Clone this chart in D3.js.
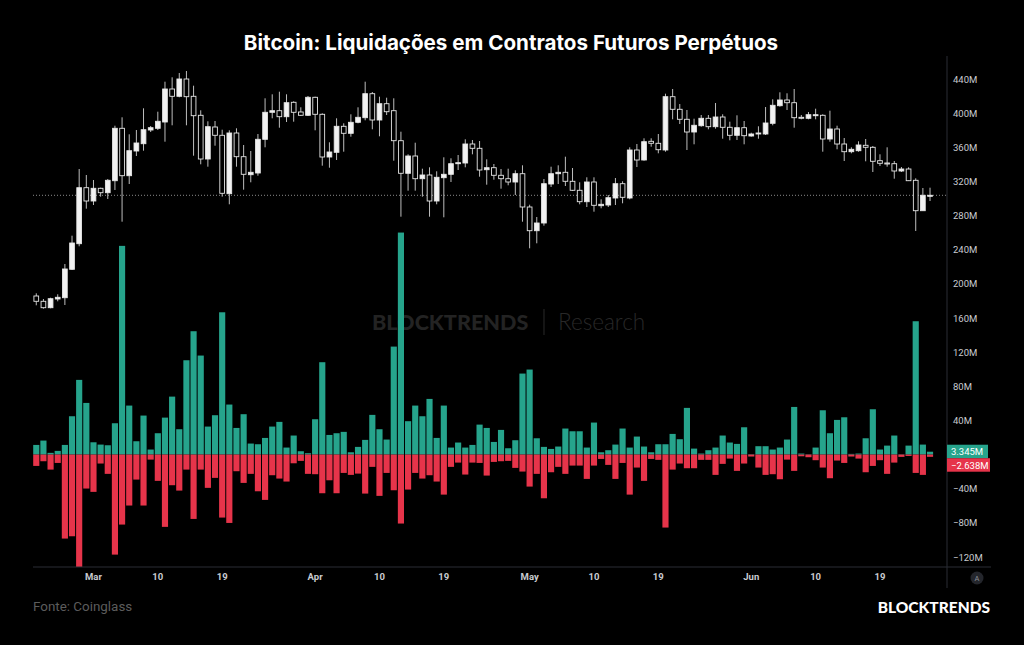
<!DOCTYPE html>
<html lang="pt">
<head>
    <meta charset="UTF-8"/>
    <title>Bitcoin: Liquidações</title>
    <script src="https://d3js.org/d3.v7.min.js"></script>
    <style>
        body {
            margin: 0;
            background: #000;
        }
    </style>
</head>
<body>
<svg id="chart" width="1024" height="645"></svg>
<script>
    // daily candles from Feb 22 to Jun 26 2024
    const dates = d3.timeDay.range(new Date(2024, 1, 22), new Date(2024, 5, 27));

    // [open, high, low, close]
    const ohlc = [
        [50900, 51170, 49970, 50370], [50370, 50600, 49630, 49730], [49730, 50730, 49670, 50630], [50600, 51070, 50370, 50770],
        [50730, 54100, 50000, 53600], [53570, 56930, 53500, 56200], [56130, 63600, 55870, 61730], [61730, 63000, 59630, 60400],
        [60400, 62500, 60000, 61670], [61670, 61730, 60830, 61230], [61230, 62600, 60600, 62470], [62430, 67930, 61500, 67670],
        [67670, 68770, 58330, 62930], [62930, 67070, 62100, 65430], [65400, 67500, 64900, 66200], [66130, 69670, 65430, 67530],
        [67500, 67900, 67300, 67730], [67670, 69330, 67500, 68370], [68300, 72330, 66330, 71600], [71600, 72770, 67970, 70870],
        [70870, 73200, 70770, 72600], [72600, 73400, 67970, 70830], [70870, 71930, 64930, 68930], [68970, 69470, 64070, 64600],
        [64600, 68370, 63830, 67830], [67800, 68400, 65930, 66970], [66970, 67530, 60830, 61170], [61130, 67470, 60070, 67200],
        [67200, 67670, 63830, 64830], [64830, 66000, 61530, 63070], [63030, 65400, 62270, 63270], [63200, 67100, 62930, 66570],
        [66570, 70670, 65770, 69270], [69270, 71070, 68670, 69430], [69430, 71330, 67730, 68830], [68830, 71070, 68300, 70230],
        [70270, 70370, 68330, 69270], [69300, 69770, 68900, 68970], [68970, 70900, 68900, 70770], [70770, 70830, 67470, 69070],
        [69070, 69170, 63930, 64800], [64800, 66270, 63730, 65300], [65270, 68670, 64500, 67870], [67870, 68170, 65330, 67170],
        [67170, 69070, 66830, 68270], [68270, 69770, 68170, 68770], [68730, 72330, 68470, 71130], [71130, 71300, 67570, 68500],
        [68500, 70830, 66870, 70130], [70130, 70730, 69000, 69330], [69430, 70670, 64430, 66430], [66430, 67330, 58830, 63170],
        [63170, 65070, 61430, 64900], [64900, 66230, 61430, 62630], [62630, 63630, 60830, 63000], [63000, 63770, 58830, 60400],
        [60400, 63370, 60070, 62770], [62730, 64770, 58770, 63070], [63070, 64670, 62300, 64130], [64130, 65000, 63500, 64230],
        [64200, 66570, 63770, 66100], [66100, 66500, 65070, 65670], [65670, 66400, 62830, 63500], [63530, 64570, 62030, 63730],
        [63730, 64100, 62530, 62970], [62970, 63600, 61630, 62630], [62630, 63630, 61970, 62300], [62300, 63470, 61000, 63130],
        [63130, 63970, 58330, 59800], [59800, 60030, 55670, 57430], [57430, 58800, 56170, 58200], [58200, 62600, 57930, 62130],
        [62100, 63830, 61800, 63130], [63130, 63970, 62100, 63270], [63270, 64830, 61900, 62370], [62370, 63700, 61400, 61470],
        [61470, 62270, 60070, 60330], [60330, 62770, 59800, 62300], [62300, 62770, 59330, 59970], [59930, 60570, 59670, 60070],
        [60000, 61000, 59800, 60730], [60700, 62700, 60000, 62130], [62130, 62370, 60170, 60770], [60700, 65770, 60570, 65500],
        [65500, 66100, 63800, 64500], [64500, 66670, 64430, 66330], [66370, 66670, 65830, 66170], [66170, 67100, 65170, 65530],
        [65500, 71130, 65330, 70830], [70830, 71600, 68570, 69570], [69570, 70100, 68100, 68570], [68570, 69500, 65500, 67300],
        [67300, 68630, 66070, 67970], [67930, 69000, 67830, 68670], [68670, 69000, 67570, 67830], [67830, 70200, 67630, 68800],
        [68800, 69070, 66630, 67770], [67770, 68330, 66470, 66970], [66970, 68970, 66500, 67730], [67730, 68400, 66070, 66930],
        [66900, 67230, 66830, 67100], [67100, 67870, 66630, 67200], [67100, 69800, 67000, 68200], [68170, 70570, 67970, 69970],
        [69930, 71270, 69830, 70500], [70500, 71170, 69500, 70230], [70230, 71600, 67730, 68730], [68770, 69000, 68570, 68730],
        [68670, 69300, 68570, 69030], [68970, 69630, 68570, 69030], [68970, 69070, 65330, 66600], [66600, 69430, 66330, 67600],
        [67600, 67930, 65570, 66100], [66100, 66700, 64400, 65330], [65330, 65770, 65170, 65570], [65430, 66370, 65330, 66000],
        [65970, 66600, 64370, 65770], [65770, 65900, 63300, 64370], [64430, 65070, 63900, 64170], [64200, 65770, 63830, 64100],
        [64130, 64400, 62630, 63400], [63400, 63800, 63300, 63600], [63600, 63770, 62400, 62430], [62470, 62670, 57400, 59430],
        [59430, 61700, 59430, 60970], [60950, 61730, 60400, 60970]
    ];

    // liquidations in millions of USD (positive = green, negative = red)
    const longLiq = [
        11.3, 16.4, 2.0, 4.3, 11.3, 44.9, 87.5, 60.5, 14.4, 11.7,
        10.9, 36.7, 244.5, 57.4, 15.6, 45.7, 5.9, 25.0, 43.3, 67.9,
        29.7, 110.5, 144.5, 116.0, 32.8, 46.1, 166.7, 58.6, 31.2, 47.3,
        12.9, 12.1, 19.5, 32.8, 38.3, 8.2, 22.3, 3.9, 1.6, 41.4,
        108.2, 23.0, 25.0, 26.6, 2.7, 9.0, 17.2, 46.5, 29.7, 17.6,
        126.5, 260.1, 39.1, 57.4, 44.9, 65.2, 19.5, 57.4, 8.2, 14.1,
        8.2, 11.3, 35.1, 31.2, 14.8, 28.9, 7.4, 16.8, 94.9, 99.6,
        19.1, 9.0, 6.6, 9.4, 30.5, 27.3, 27.3, 8.2, 37.5, 2.7,
        5.1, 11.7, 30.5, 8.2, 21.1, 9.4, 2.7, 12.1, 12.1, 24.2,
        18.0, 54.7, 7.0, 1.2, 5.1, 8.2, 22.3, 14.1, 12.5, 32.0,
        0.5, 9.8, 9.8, 5.9, 8.2, 17.6, 55.8, 1.2, 0.4, 8.2,
        51.9, 25.0, 40.6, 43.7, 0.8, 1.2, 19.1, 53.1, 5.9, 10.5,
        22.3, 0.4, 10.5, 156.2, 11.7, 3.345
    ];
    const shortLiq = [
        -13.3, -7.8, -17.6, -9.8, -98.4, -95.7, -132.4, -39.8, -43.7, -10.5,
        -22.6, -117.2, -82.0, -59.7, -29.3, -59.7, -5.9, -30.8, -84.7, -35.9,
        -42.2, -17.6, -75.4, -17.6, -39.0, -27.3, -73.8, -80.1, -19.5, -33.2,
        -22.6, -43.0, -53.1, -24.2, -28.1, -31.6, -10.2, -7.4, -22.6, -23.0,
        -45.3, -30.1, -45.3, -21.5, -23.8, -22.3, -45.7, -14.4, -48.4, -21.5,
        -41.8, -80.8, -41.0, -21.5, -28.1, -24.2, -31.6, -46.9, -14.4, -9.4,
        -23.4, -9.4, -9.8, -24.6, -8.6, -7.8, -7.4, -15.6, -19.9, -37.5,
        -22.6, -51.2, -20.7, -14.4, -22.6, -12.9, -12.9, -28.5, -12.9, -5.1,
        -12.1, -28.5, -9.8, -46.9, -15.2, -30.8, -5.1, -6.2, -85.5, -17.6,
        -10.5, -16.0, -16.0, -6.2, -6.2, -23.8, -10.9, -4.7, -19.1, -10.5,
        -2.3, -15.2, -23.8, -23.0, -28.9, -5.9, -19.1, -2.0, -3.1, -6.6,
        -15.2, -27.7, -7.0, -9.8, -2.3, -4.7, -20.7, -13.3, -6.6, -22.6,
        -9.4, -2.7, -1.6, -21.5, -23.8, -2.638
    ];

    const yTicks = [-120, -80, -40, 40, 80, 120, 160, 200, 240, 280, 320, 360, 400, 440];
    const xTickDates = ["2024-03-01", "2024-03-10", "2024-03-19", "2024-04-01", "2024-04-10", "2024-04-19",
        "2024-05-01", "2024-05-10", "2024-05-19", "2024-06-01", "2024-06-10", "2024-06-19"];
    const xTickLabels = ["Mar", "10", "19", "Apr", "10", "19", "May", "10", "19", "Jun", "10", "19"];

    const width = 1024;
    const height = 645;
    const plot = {left: 33, right: 947, top: 56, bottom: 567};

    const green = "#26a48c";
    const red = "#e6344a";
    const axisGray = "#2a2d35";
    const labelGray = "#c9cbd0";

    const fmt = d3.timeFormat("%Y-%m-%d");
    const keys = dates.map(fmt);

    const svg = d3.select("#chart");

    svg.append("rect")
        .attr("width", width)
        .attr("height", height)
        .attr("fill", "#000");

    // Title
    svg.append("text")
        .attr("x", 511)
        .attr("y", 50)
        .attr("text-anchor", "middle")
        .style("font-family", "Inter, Roboto, sans-serif")
        .style("font-weight", "700")
        .style("font-size", "20.6px")
        .style("fill", "#fff")
        .text("Bitcoin: Liquidações em Contratos Futuros Perpétuos");

    // watermark
    const wm = svg.append("g");
    wm.append("text")
        .attr("x", 372)
        .attr("y", 330)
        .style("font-family", "Lato, sans-serif")
        .style("font-weight", "900")
        .style("font-size", "21.6px")
        .style("fill", "#232323")
        .text("BLOCKTRENDS");
    wm.append("line")
        .attr("x1", 544).attr("x2", 544)
        .attr("y1", 309).attr("y2", 335)
        .attr("stroke", "#232323")
        .attr("stroke-width", 1.2);
    wm.append("text")
        .attr("x", 558)
        .attr("y", 330)
        .style("font-family", "Lato, sans-serif")
        .style("font-weight", "300")
        .style("font-size", "22.5px")
        .style("fill", "#282828")
        .text("Research");

    // scales
    const x = d3.scaleBand()
        .domain(keys)
        .range([32.7, 933.6])
        .padding(0);

    const y = d3.scaleLinear()
        .domain([-120, 440])
        .range([557, 79]);

    const price = d3.scaleLinear()
        .domain([50000, 74000])
        .range([305, 65]);

    const cx = i => x(keys[i]) + x.bandwidth() / 2;

    svg.append("clipPath")
        .attr("id", "plotClip")
        .append("rect")
        .attr("x", plot.left)
        .attr("y", plot.top)
        .attr("width", plot.right - plot.left)
        .attr("height", plot.bottom - plot.top);

    const g = svg.append("g").attr("clip-path", "url(#plotClip)");

    // liquidation bars
    const barW = x.bandwidth() * 0.86;
    g.selectAll(".long")
        .data(longLiq)
        .join("rect")
        .attr("class", "long")
        .attr("x", (d, i) => cx(i) - barW / 2)
        .attr("width", barW)
        .attr("y", d => y(d))
        .attr("height", d => y(0) - y(d))
        .attr("fill", green);

    g.selectAll(".short")
        .data(shortLiq)
        .join("rect")
        .attr("class", "short")
        .attr("x", (d, i) => cx(i) - barW / 2)
        .attr("width", barW)
        .attr("y", y(0))
        .attr("height", d => y(d) - y(0))
        .attr("fill", red);

    // last price dotted line
    const last = ohlc[ohlc.length - 1][3];
    g.append("line")
        .attr("x1", plot.left)
        .attr("x2", plot.right)
        .attr("y1", price(last))
        .attr("y2", price(last))
        .attr("stroke", "#8a8a8a")
        .attr("stroke-width", 1)
        .attr("stroke-dasharray", "1,2");

    // candles
    const candleW = x.bandwidth() * 0.66;
    const candles = g.selectAll(".candle")
        .data(ohlc)
        .join("g")
        .attr("class", "candle");

    candles.append("line")
        .attr("x1", (d, i) => cx(i))
        .attr("x2", (d, i) => cx(i))
        .attr("y1", d => price(d[1]))
        .attr("y2", d => price(d[2]))
        .attr("stroke", "#bdbdbd")
        .attr("stroke-width", 1);

    candles.append("rect")
        .attr("x", (d, i) => cx(i) - candleW / 2)
        .attr("width", candleW)
        .attr("y", d => price(Math.max(d[0], d[3])))
        .attr("height", d => Math.max(1, Math.abs(price(d[0]) - price(d[3]))))
        .attr("fill", d => d[3] >= d[0] ? "#f2f2f2" : "#000")
        .attr("stroke", "#e6e6e6")
        .attr("stroke-width", 0.9);

    // right axis
    svg.append("line")
        .attr("x1", plot.right).attr("x2", plot.right)
        .attr("y1", plot.top).attr("y2", 588)
        .attr("stroke", axisGray);

    const yAxis = svg.append("g")
        .attr("transform", `translate(${plot.right}, 0)`)
        .call(d3.axisRight(y)
            .tickValues(yTicks)
            .tickSize(0)
            .tickPadding(6)
            .tickFormat(d => (d < 0 ? "−" : "") + Math.abs(d) + "M"));
    yAxis.select(".domain").remove();
    yAxis.selectAll("text")
        .style("font-family", "Roboto, sans-serif")
        .style("font-size", "9.5px")
        .style("fill", labelGray);

    // bottom axis
    svg.append("line")
        .attr("x1", plot.left).attr("x2", 991)
        .attr("y1", plot.bottom).attr("y2", plot.bottom)
        .attr("stroke", axisGray);

    const xAxis = svg.append("g")
        .attr("transform", `translate(0, ${plot.bottom})`)
        .call(d3.axisBottom(x)
            .tickValues(xTickDates)
            .tickSize(0)
            .tickPadding(6)
            .tickFormat((d, i) => xTickLabels[i]));
    xAxis.select(".domain").remove();
    xAxis.selectAll("text")
        .style("font-family", "Roboto, sans-serif")
        .style("font-size", "9.5px")
        .style("font-weight", "700")
        .style("fill", labelGray);

    // last value labels
    const lastLong = longLiq[longLiq.length - 1];
    const lastShort = shortLiq[shortLiq.length - 1];
    const boxes = [
        {v: lastLong, text: lastLong.toFixed(3) + "M", color: green, yc: y(lastLong), w: 41},
        {v: lastShort, text: "−" + Math.abs(lastShort).toFixed(3) + "M", color: red, yc: y(lastLong) + 13.5, w: 43}
    ];
    const box = svg.selectAll(".lastbox")
        .data(boxes)
        .join("g")
        .attr("class", "lastbox")
        .attr("transform", d => `translate(${plot.right}, ${d.yc})`);
    box.append("rect")
        .attr("x", 0)
        .attr("y", -7)
        .attr("width", d => d.w)
        .attr("height", 13.5)
        .attr("fill", d => d.color);
    box.append("text")
        .attr("x", 4)
        .attr("y", 3.5)
        .style("font-family", "Roboto, sans-serif")
        .style("font-size", "9.5px")
        .style("fill", "#fff")
        .text(d => d.text);

    // auto scale button
    svg.append("circle")
        .attr("cx", 977)
        .attr("cy", 578)
        .attr("r", 6.5)
        .attr("fill", "#24262c");
    svg.append("text")
        .attr("x", 977)
        .attr("y", 581)
        .attr("text-anchor", "middle")
        .style("font-family", "Roboto, sans-serif")
        .style("font-size", "7.5px")
        .style("fill", "#8c8f96")
        .text("A");

    // footer
    svg.append("text")
        .attr("x", 33)
        .attr("y", 611)
        .style("font-family", "Roboto, sans-serif")
        .style("font-size", "13.4px")
        .style("fill", "#5c5c5c")
        .text("Fonte: Coinglass");

    svg.append("text")
        .attr("x", 990)
        .attr("y", 613)
        .attr("text-anchor", "end")
        .style("font-family", "Lato, sans-serif")
        .style("font-weight", "900")
        .style("font-size", "15.5px")
        .style("fill", "#fff")
        .text("BLOCKTRENDS");
</script>
</body>
</html>
